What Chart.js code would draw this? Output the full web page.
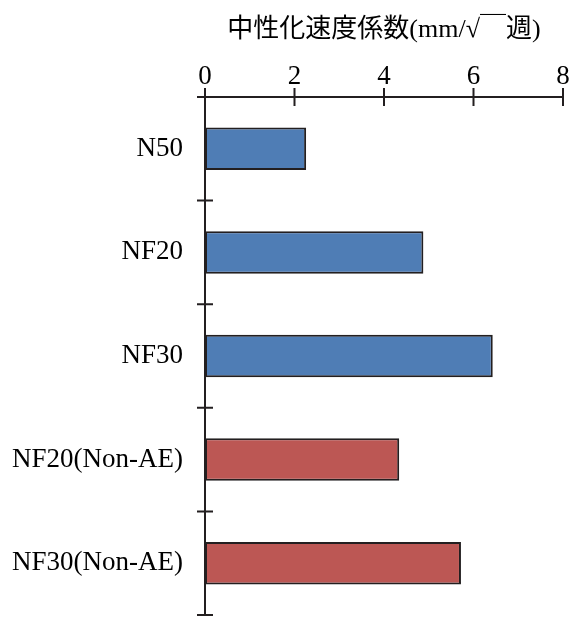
<!DOCTYPE html>
<html>
<head>
<meta charset="utf-8">
<script src="https://cdn.jsdelivr.net/npm/chart.js@4"></script>
<style>
html,body{margin:0;padding:0;background:#fff;}
canvas{display:block;}
</style>
</head>
<body>
<canvas id="c" width="573" height="617"></canvas>
<script>
const categories = ['N50', 'NF20', 'NF30', 'NF20(Non-AE)', 'NF30(Non-AE)'];
const values = [2.26, 4.88, 6.43, 4.34, 5.72];
const groups = ['AE', 'AE', 'AE', 'Non-AE', 'Non-AE'];
const xTicks = [0, 2, 4, 6, 8];
const axisTitle = '中性化速度係数(mm/√￣週)';

const groupColor = {'AE': '#4F7DB5', 'Non-AE': '#BC5754'};
const FONT = "'Liberation Serif', 'Noto Sans CJK JP', serif";
const INK = '#231F20';

function noPad(s) {
  s.paddingLeft = 0; s.paddingRight = 0; s.paddingTop = 0; s.paddingBottom = 0;
}

const axesPlugin = {
  id: 'crossAxes',
  afterDatasetsDraw(chart) {
    const {ctx, chartArea: a, scales: {x, y}} = chart;
    ctx.save();
    ctx.strokeStyle = INK;
    ctx.lineWidth = 2;
    ctx.lineCap = 'butt';
    ctx.beginPath();
    ctx.moveTo(a.left - 1, a.top);
    ctx.lineTo(a.right + 1, a.top);
    ctx.moveTo(a.left, a.top);
    ctx.lineTo(a.left, a.bottom);
    xTicks.forEach(v => {
      const px = x.getPixelForValue(v);
      ctx.moveTo(px, a.top - 9);
      ctx.lineTo(px, a.top + 9);
    });
    for (let i = 0; i <= categories.length; i++) {
      const py = y.getPixelForValue(i - 0.5);
      ctx.moveTo(a.left - 8, py);
      ctx.lineTo(a.left + 8, py);
    }
    ctx.stroke();
    ctx.restore();
  }
};

new Chart(document.getElementById('c'), {
  type: 'bar',
  data: {
    labels: categories,
    datasets: [{
      data: values,
      backgroundColor: groups.map(g => groupColor[g]),
      borderColor: INK,
      borderWidth: 2,
      borderSkipped: false,
      categoryPercentage: 1,
      barPercentage: 0.41
    }]
  },
  options: {
    indexAxis: 'y',
    responsive: false,
    animation: false,
    layout: {padding: {left: 0, right: 10, top: 0, bottom: 2}},
    plugins: {legend: {display: false}, tooltip: {enabled: false}},
    scales: {
      x: {
        position: 'top',
        min: 0, max: 8,
        afterBuildTicks(s) { s.ticks = xTicks.map(v => ({value: v})); },
        afterFit(s) { s.height = 97; noPad(s); },
        grid: {display: false, tickLength: 0},
        border: {display: false},
        ticks: {color: '#000', font: {family: FONT, size: 27}, padding: 4, maxRotation: 0},
        title: {display: true, text: axisTitle, color: '#000', font: {family: FONT, size: 26}, padding: {top: 15, bottom: 0}}
      },
      y: {
        afterFit(s) { s.width = 205; noPad(s); },
        grid: {display: false, tickLength: 0},
        border: {display: false},
        ticks: {color: '#000', font: {family: FONT, size: 27}, padding: 22}
      }
    }
  },
  plugins: [axesPlugin]
});
</script>
</body>
</html>
